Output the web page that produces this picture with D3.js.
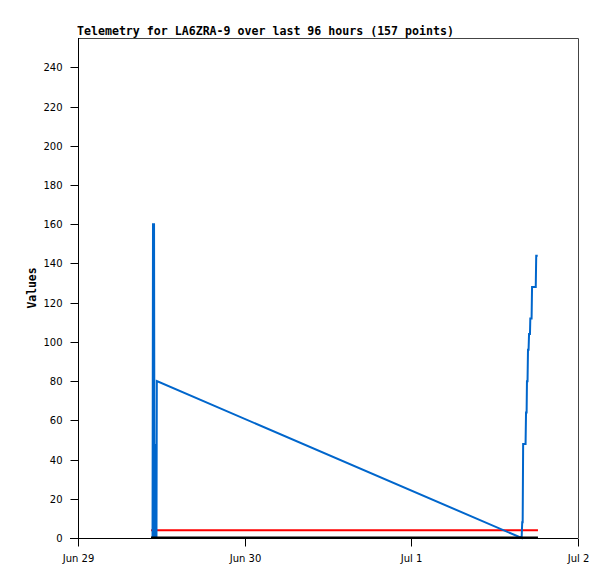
<!DOCTYPE html>
<html><head><meta charset="utf-8">
<script src="https://cdn.jsdelivr.net/npm/d3@7/dist/d3.min.js"></script>
<style>body{margin:0;background:#fff}svg{display:block}</style>
</head><body>
<svg id="c" width="615" height="579"></svg>
<script>
const title = "Telemetry for LA6ZRA-9 over last 96 hours (157 points)";
const yLabel = "Values";
const yTicks = [0,20,40,60,80,100,120,140,160,180,200,220,240];
const xTickDates = ["2024-06-29T00:00","2024-06-30T00:00","2024-07-01T00:00","2024-07-02T00:00"];
const xTickLabels = ["Jun 29","Jun 30","Jul 1","Jul 2"];

// blue series
const blueTimes = ["2024-06-29T10:44","2024-06-29T10:48","2024-06-29T10:57","2024-06-29T11:01","2024-06-29T11:05","2024-06-29T11:10","2024-06-29T11:18","2024-06-29T11:21",
  "2024-07-01T15:53","2024-07-01T15:58","2024-07-01T16:02","2024-07-01T16:06","2024-07-01T16:27","2024-07-01T16:31","2024-07-01T16:36","2024-07-01T16:39","2024-07-01T16:44","2024-07-01T16:48","2024-07-01T16:53","2024-07-01T16:57","2024-07-01T17:05","2024-07-01T17:08","2024-07-01T17:19","2024-07-01T17:23","2024-07-01T17:55","2024-07-01T17:59","2024-07-01T18:12"];
const blueValues = [0,160,160,0,48,0,0,80,
  0,8,8,48,48,64,64,80,80,96,96,104,104,112,112,128,128,144,144];
// red series
const redTimes = ["2024-06-29T10:31","2024-07-01T18:14"];
const redValues = [4,4];
// black series
const blackTimes = ["2024-06-29T10:31","2024-07-01T18:14"];
const blackValues = [0,0];

const parse = d3.timeParse("%Y-%m-%dT%H:%M");
const L=78, R=578, T=38, B=538;
const svg = d3.select("#c");
const x = d3.scaleTime().domain([parse(xTickDates[0]), parse(xTickDates[3])]).range([L,R]);
const y = d3.scaleLinear().domain([0,255]).range([B,T]);

// frame top/right
svg.append("path").attr("d",`M${L},${T+0.5}H${R+0.5}V${B}`).attr("fill","none").attr("stroke","#444").attr("stroke-width",1);

const mk = (ts, vs) => ts.map((t,i)=>({t:parse(t), v:vs[i]}));
const line = d3.line().x(d=>x(d.t)).y(d=>y(d.v));

svg.append("path").datum(mk(redTimes,redValues)).attr("d",line).attr("fill","none").attr("stroke","#ff0000").attr("stroke-width",2);
svg.append("path").datum(mk(blueTimes,blueValues)).attr("d",line).attr("fill","none").attr("stroke","#0066cc").attr("stroke-width",2);
svg.append("path").datum(mk(blackTimes,blackValues)).attr("d",line).attr("fill","none").attr("stroke","#000").attr("stroke-width",2).attr("transform","translate(0,-0.5)");

const fontTick = "DejaVu Sans, sans-serif";
// y axis
const ya = svg.append("g").attr("transform",`translate(${L+0.5},0)`).call(d3.axisLeft(y).tickValues(yTicks).tickSize(8).tickPadding(8).tickSizeOuter(0));
ya.select(".domain").attr("d",`M0,${T}V${B+8}`);
ya.selectAll("text").attr("font-family",fontTick).attr("font-size","10px").attr("fill","#000");
ya.selectAll(".tick line").attr("stroke","#000");
ya.selectAll(".tick").attr("transform",d=>`translate(0,${Math.round(y(d))+0.5})`);
// x axis
const xa = svg.append("g").attr("transform",`translate(0,${B+0.5})`).call(d3.axisBottom(x).tickValues(xTickDates.map(parse)).tickFormat((d,i)=>xTickLabels[i]).tickSize(8).tickPadding(8).tickSizeOuter(0));
xa.select(".domain").attr("d",`M${L-8},0H${R}`);
xa.selectAll("text").attr("font-family",fontTick).attr("font-size","10px").attr("fill","#000");
xa.selectAll(".tick").attr("transform",d=>`translate(${Math.round(x(d))+0.5},0)`);

svg.append("text").attr("x",77).attr("y",35).attr("font-family","DejaVu Sans Mono, monospace").attr("font-weight","bold").attr("font-size","11.6px").text(title);
svg.append("text").attr("transform","translate(36,288) rotate(-90)").attr("text-anchor","middle").attr("font-family","DejaVu Sans Mono, monospace").attr("font-weight","bold").attr("font-size","11.4px").text(yLabel);
</script>
</body></html>
